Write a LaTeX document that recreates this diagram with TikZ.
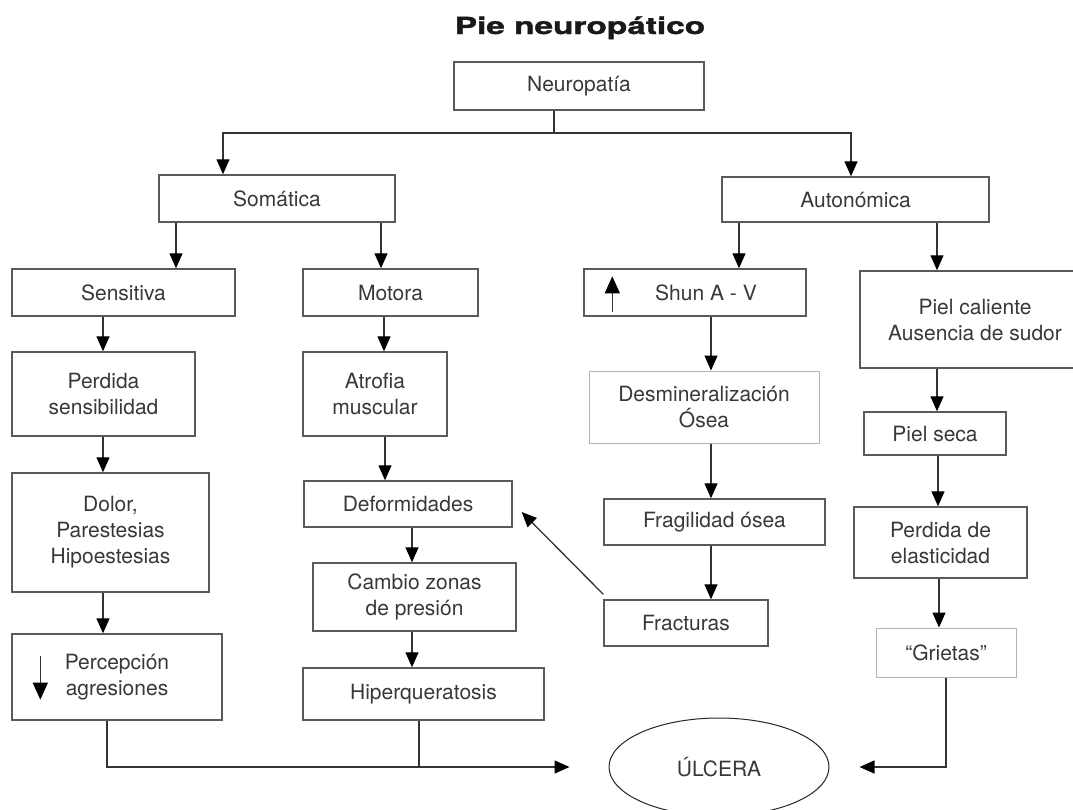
\documentclass[tikz,border=0pt]{standalone}
\usepackage{fontspec}
\setmainfont{TeX Gyre Heros}
\newfontfamily\titlefont[BoldFeatures={FakeBold=1.2}]{TeX Gyre Heros}
\usepackage{graphicx}
\usetikzlibrary{arrows.meta,shapes.geometric}
\definecolor{boxline}{HTML}{5A5A5A}
\definecolor{paleline}{HTML}{B4B4B4}
\definecolor{txt}{HTML}{383838}
\newcommand{\boxfont}{\fontsize{21}{26}\selectfont}
\tikzset{
    box/.style={draw=boxline, line width=1.4pt, text=txt, align=center, inner sep=0pt, font=\boxfont},
    palebox/.style={box, draw=paleline, line width=1pt},
    arr/.style={draw=black!80, line width=1.3pt, -{Triangle[length=15pt,width=13pt,color=black]}},
    uparr/.style={arr, -{Triangle[length=17pt,width=15pt,color=black]}},
    link/.style={draw=black!80, line width=1.3pt},
}
\begin{document}
\begin{tikzpicture}[x=1pt,y=-1pt]
        \useasboundingbox (0,0) rectangle (1073,809);

        \node[anchor=base, text=black!90] (title) at (580,34) {\scalebox{1.42}[1]{\titlefont\fontsize{23.5}{26}\selectfont\bfseries Pie neuropático}};

        \node[box, minimum width=250pt, minimum height=48pt] (neuro) at (579,86) {Neuropatía};
        \node[box, minimum width=236pt, minimum height=47pt] (soma) at (277,198.5) {Somática};
        \node[box, minimum width=267pt, minimum height=45pt] (auto) at (855.5,199.5) {Autonómica};

        \node[box, minimum width=223pt, minimum height=47pt] (sens) at (123.5,292.5) {Sensitiva};
        \node[box, minimum width=175pt, minimum height=47pt] (mot) at (390.5,292.5) {Motora};
        \node[box, minimum width=222pt, minimum height=47pt] (shun) at (695,292.5) {\hspace*{22pt}Shun A - V};
        \node[box, minimum width=230pt, minimum height=97pt] (piel) at (975,319.5) {Piel caliente\\Ausencia de sudor};

        \node[box, minimum width=183pt, minimum height=84pt] (perd) at (103.5,394) {Perdida\\sensibilidad};
        \node[box, minimum width=144pt, minimum height=84pt] (atro) at (375,394) {Atrofia\\muscular};
        \node[palebox, minimum width=230pt, minimum height=72pt] (desm) at (704,407) {Desmineralización\\Ósea};
        \node[box, minimum width=142pt, minimum height=43pt] (seca) at (935,433.5) {Piel seca};

        \node[box, minimum width=197pt, minimum height=119pt] (dolor) at (110.5,532.5) {Dolor,\\Parestesias\\Hipoestesias};
        \node[box, minimum width=208pt, minimum height=46pt] (defo) at (408,504) {Deformidades};
        \node[box, minimum width=221pt, minimum height=46pt] (frag) at (714.5,522) {Fragilidad ósea};
        \node[box, minimum width=173pt, minimum height=71pt] (elas) at (940.5,542.5) {Perdida de\\elasticidad};

        \node[box, minimum width=203pt, minimum height=68pt] (camb) at (414.5,597) {Cambio zonas\\de presión};
        \node[box, minimum width=164pt, minimum height=46pt] (fract) at (686,623) {Fracturas};
        \node[palebox, minimum width=140pt, minimum height=49pt] (griet) at (946,652.5) {“Grietas”};

        \node[box, minimum width=210pt, minimum height=86pt] (perc) at (117,677) {Percepción\\agresiones};
        \node[box, minimum width=241pt, minimum height=52pt] (hiper) at (423.5,694) {Hiperqueratosis};

        \node[draw=black!85, line width=1pt, ellipse, minimum width=220pt, minimum height=98pt, inner sep=0pt, text=txt, font=\boxfont] (ulc) at (719,767) {ÚLCERA};

        \coordinate (split) at (554,133);
        \draw[link] (neuro.south -| split) -- (split);
        \draw[arr] (split) -| (soma.north -| 223,0);
        \draw[arr] (split) -| (auto.north -| 851,0);

        \foreach \a/\b/\x in {soma/sens/176, soma/mot/381, auto/shun/739, auto/piel/937,
                sens/perd/103, mot/atro/384, shun/desm/711, piel/seca/937,
                perd/dolor/103, atro/defo/385, desm/frag/711, seca/elas/938,
                dolor/perc/103, defo/camb/412, frag/fract/711, elas/griet/939,
                camb/hiper/412}
            \draw[arr] (\a.south -| \x,0) -- (\b.north -| \x,0);

        \draw[uparr] ([xshift=29pt,yshift=5pt]shun.south west) -- ([xshift=29pt,yshift=-8pt]shun.north west);
        \draw[uparr] ([xshift=29pt,yshift=-23pt]perc.north west) -- ([xshift=29pt,yshift=21pt]perc.south west);

        \draw[arr] ([yshift=5pt]fract.north west) -- ([shift={(9pt,-8pt)}]defo.east);

        \draw[arr] (perc.south -| 107,0) |- ([xshift=-39pt]ulc.west);
        \draw[link] (hiper.south -| 419,0) -- (ulc.west -| 419,0);
        \draw[arr] (griet.south -| 946,0) |- ([xshift=30pt]ulc.east);
\end{tikzpicture}
\end{document}
